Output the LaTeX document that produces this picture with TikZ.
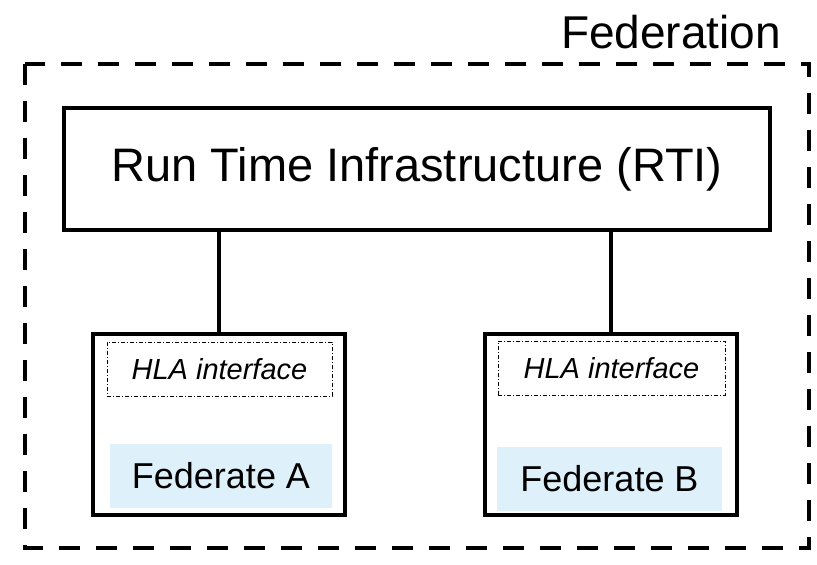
\documentclass[tikz,border=0pt]{standalone}
\usepackage{fontspec}
\setmainfont{Liberation Sans}
\definecolor{fedfill}{HTML}{DEF1FA}
\begin{document}
\begin{tikzpicture}[x=1pt,y=-1pt,
  outer/.style={draw=black,line width=4.5pt,dash pattern=on 21pt off 16pt},
  mainbox/.style={draw=black,line width=4pt,fill=white},
  link/.style={draw=black,line width=4pt},
  hla/.style={draw=black,line width=0.8pt,dash pattern=on 4pt off 2pt on 1pt off 2pt},
  fedlabel/.style={fill=fedfill,inner sep=0pt,font=\fontsize{36}{40}\selectfont}]
\useasboundingbox (0,0) rectangle (817,565);
\draw[outer] (25,64) rectangle (809,548);
\node[anchor=center,font=\fontsize{46}{50}\selectfont] (fedtitle) at (671,32) {Federation};
\node[mainbox,minimum width=706pt,minimum height=122pt,inner sep=0pt,
  font=\fontsize{47}{52}\selectfont] (rti) at (417,169) {Run Time Infrastructure (RTI)};
\node[mainbox,minimum width=252pt,minimum height=181pt,inner sep=0pt] (fa) at (219,424.5) {};
\node[mainbox,minimum width=252pt,minimum height=181pt,inner sep=0pt] (fb) at (611,424) {};
\draw[link] (rti.south -| fa.north) coordinate (ta) -- (fa.north);
\draw[link] (rti.south -| fb.north) coordinate (tb) -- (fb.north);
\node[hla,minimum width=225pt,minimum height=54pt,inner sep=0pt,
  font=\itshape\fontsize{29}{33}\selectfont] (ha) at (219.5,369) {HLA interface};
\node[hla,minimum width=227pt,minimum height=54pt,inner sep=0pt,
  font=\itshape\fontsize{29}{33}\selectfont] (hb) at (611.5,368) {HLA interface};
\node[fedlabel,minimum width=222pt,minimum height=64pt] (la) at (221,476) {Federate A};
\node[fedlabel,minimum width=225pt,minimum height=64pt] (lb) at (609.5,479) {Federate B};
\end{tikzpicture}
\end{document}
